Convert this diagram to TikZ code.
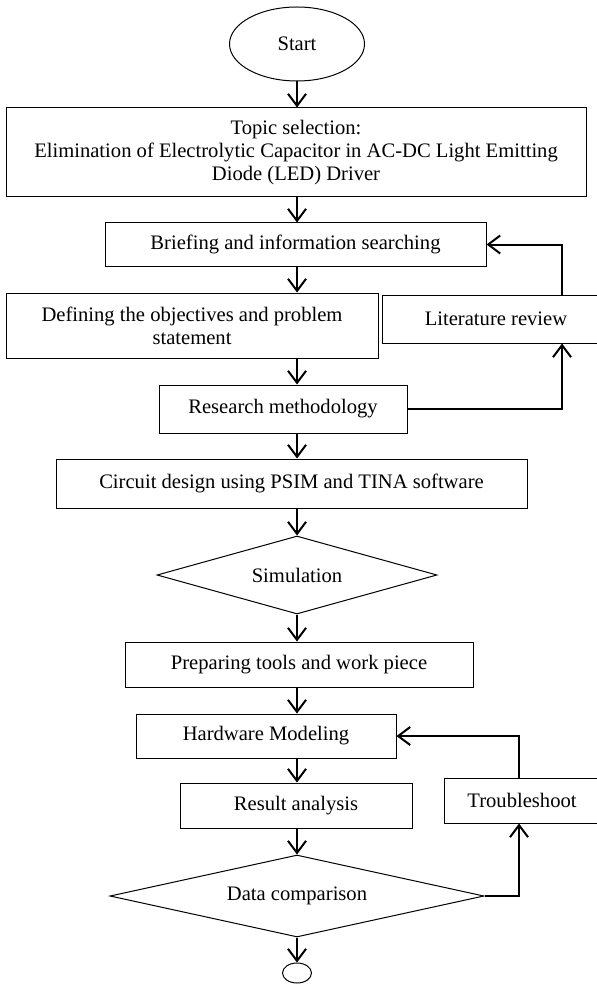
\documentclass[tikz,border=0pt]{standalone}
\usepackage{fontspec}
\setmainfont{Liberation Serif}
\usetikzlibrary{arrows.meta,shapes.geometric}

\begin{document}
\begin{tikzpicture}[
  x=0.5pt,y=-0.5pt,
  font=\fontsize{10.3}{11.5}\selectfont,
  box/.style={draw,line width=0.5pt,inner sep=0pt,align=center},
  term/.style={draw,ellipse,line width=0.5pt,inner sep=0pt},
  decision/.style={draw,diamond,line width=0.5pt,inner sep=0pt},
  arr/.style={-{Straight Barb[length=6pt,width=9pt]},line width=1pt}
]
\useasboundingbox (0,0) rectangle (597,984);
\coordinate (axis) at (297,0);
\coordinate (litx) at (562,0);
\coordinate (trx)  at (519,0);

\node[term,minimum width=67.5pt,minimum height=37pt] (start) at (297,44) {Start};
\node[box,minimum width=290pt,minimum height=44.5pt] (topic) at (296,152.5)
  {Topic selection:\\Elimination of Electrolytic Capacitor in AC-DC Light Emitting\\Diode (LED) Driver};
\node[box,minimum width=190.5pt,minimum height=21.5pt] (brief) at (295.5,244.5) {Briefing and information searching};
\node[box,minimum width=186pt,minimum height=32.5pt] (define) at (192,325.5)
  {Defining the objectives and problem\\statement};
\node[box,minimum width=114pt,minimum height=24pt] (lit) at (496,319) {Literature review};
\node[box,minimum width=124pt,minimum height=24pt] (research) at (283,409) {Research methodology};
\node[box,minimum width=235.5pt,minimum height=24.5pt] (circuit) at (291.5,483.5) {Circuit design using PSIM and TINA software};
\node[decision,aspect=3.59,minimum width=140pt,minimum height=39pt] (sim) at (297,575) {Simulation};
\node[box,minimum width=174pt,minimum height=22.5pt] (prep) at (299,664.5) {Preparing tools and work piece};
\node[box,minimum width=130pt,minimum height=22pt] (hard) at (266,736) {Hardware Modeling};
\node[box,minimum width=116pt,minimum height=22.5pt] (result) at (296,805.5) {Result analysis};
\node[box,minimum width=77.5pt,minimum height=22.5pt] (trouble) at (522,800.5) {Troubleshoot};
\node[decision,aspect=4.56,minimum width=187pt,minimum height=41pt] (data) at (297,896) {Data comparison};
\node[term,minimum width=14.5pt,minimum height=10pt] (stop) at (297,973) {};

% main flow
\foreach \a/\b in {start/topic,topic/brief,brief/define,define/research,research/circuit,
                   circuit/sim,sim/prep,prep/hard,hard/result,result/data,data/stop}
  \draw[arr] (\a.south -| axis) -- (\b.north -| axis);

% loops
\draw[arr] (lit.north -| litx) |- (brief.east);
\draw[arr] (research.east) -| (lit.south -| litx);
\draw[arr] (trouble.north -| trx) |- (hard.east);
\draw[arr] (data.east) -| (trouble.south -| trx);
\end{tikzpicture}
\end{document}
